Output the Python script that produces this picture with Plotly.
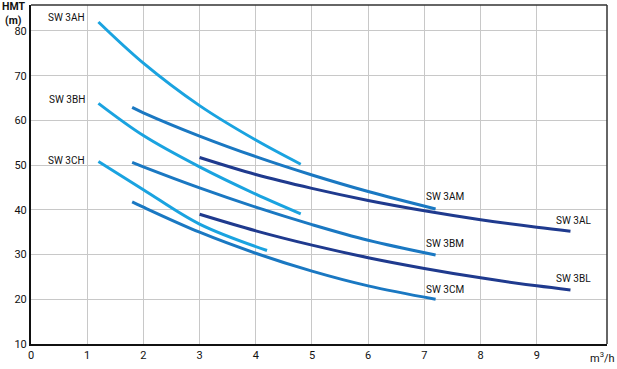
import plotly.graph_objects as go

# Data
names = ["SW 3AH", "SW 3BH", "SW 3CH", "SW 3AM", "SW 3BM", "SW 3CM", "SW 3AL", "SW 3BL"]
x_3AH = [1.2, 2, 3, 4, 4.8]
y_3AH = [82.0, 72.8, 63.3, 55.6, 50.2]
x_3BH = [1.2, 2, 3, 4, 4.8]
y_3BH = [63.8, 56.6, 49.6, 43.5, 39.1]
x_3CH = [1.2, 2, 3, 4.2]
y_3CH = [50.8, 44.5, 36.8, 30.9]
x_3AM = [1.8, 2, 3, 4, 5, 6, 7.2]
y_3AM = [62.9, 61.7, 56.5, 51.9, 47.8, 44.1, 40.2]
x_3BM = [1.8, 2, 3, 4, 5, 6, 7.2]
y_3BM = [50.6, 49.6, 44.9, 40.6, 36.7, 33.2, 29.9]
x_3CM = [1.8, 2, 3, 4, 5, 6, 7.2]
y_3CM = [41.8, 40.6, 35.0, 30.3, 26.3, 23.0, 20.0]
x_3AL = [3, 4, 5, 6, 7, 8, 9, 9.6]
y_3AL = [51.7, 47.9, 44.8, 42.1, 39.8, 37.8, 36.1, 35.2]
x_3BL = [3, 4, 5, 6, 7, 8, 9, 9.6]
y_3BL = [39.0, 35.3, 32.1, 29.3, 26.9, 24.8, 23.0, 22.1]

label_x = [1.0, 1.0, 1.0, 7.0, 7.0, 7.0, 9.31, 9.31]
label_y = [82.9, 64.6, 51.1, 42.9, 32.4, 22.1, 37.7, 24.7]
label_anchor = ["right", "right", "right", "left", "left", "left", "left", "left"]

x_ticks = [0, 1, 2, 3, 4, 5, 6, 7, 8, 9]
y_ticks = [10, 20, 30, 40, 50, 60, 70, 80]

LIGHT = "#1aa3e0"
MED = "#1a78c2"
DARK = "#1f3a8e"

series = [
    (x_3AH, y_3AH, LIGHT), (x_3BH, y_3BH, LIGHT), (x_3CH, y_3CH, LIGHT),
    (x_3AM, y_3AM, MED), (x_3BM, y_3BM, MED), (x_3CM, y_3CM, MED),
    (x_3AL, y_3AL, DARK), (x_3BL, y_3BL, DARK),
]

FONT = "Roboto"

fig = go.Figure()
for (xs, ys, col), nm in zip(series, names):
    fig.add_trace(go.Scatter(x=xs, y=ys, mode="lines", name=nm,
                             line=dict(color=col, width=3, shape="spline", smoothing=1.0),
                             showlegend=False, hoverinfo="skip"))

for nm, lx, ly, anc in zip(names, label_x, label_y, label_anchor):
    fig.add_annotation(x=lx, y=ly, text=nm, showarrow=False, xanchor=anc, yanchor="middle",
                       font=dict(family=FONT, size=10, color="#111"))

fig.add_annotation(xref="paper", yref="paper", x=-0.03, y=0.9965, text="<b>HMT</b>", showarrow=False,
                   xanchor="center", yanchor="middle", font=dict(family=FONT, size=10.5, color="#111"))
fig.add_annotation(xref="paper", yref="paper", x=-0.03, y=0.955, text="<b>(m)</b>", showarrow=False,
                   xanchor="center", yanchor="middle", font=dict(family=FONT, size=10.5, color="#111"))
fig.add_annotation(xref="paper", yref="paper", x=0.993, y=-0.04, text="m<sup>3</sup>/h", showarrow=False,
                   xanchor="center", yanchor="middle", font=dict(family=FONT, size=11, color="#111"))

fig.update_xaxes(range=[0, 10.25], tickvals=x_ticks, showgrid=True, gridcolor="#c8c8c8", gridwidth=1,
                 showline=True, linecolor="#111", linewidth=2, mirror=False, ticks="", zeroline=False,
                 automargin=False, tickfont=dict(family=FONT, size=11, color="#111"))
fig.update_yaxes(range=[10, 85.8], tickvals=y_ticks, showgrid=True, gridcolor="#c8c8c8", gridwidth=1,
                 showline=True, linecolor="#111", linewidth=2, mirror=False, ticks="", zeroline=False,
                 automargin=False, tickfont=dict(family=FONT, size=11, color="#111"))

fig.add_shape(type="line", xref="paper", yref="paper", x0=0, x1=1, y0=1, y1=1,
              line=dict(color="#333", width=1.5))
fig.add_shape(type="line", xref="paper", yref="paper", x0=1, x1=1, y0=0, y1=1,
              line=dict(color="#333", width=1.5))

fig.update_layout(width=617, height=369, margin=dict(l=31, r=10, t=5, b=25),
                  plot_bgcolor="white", paper_bgcolor="white")

fig.write_html("out.html", config={"displayModeBar": False},
               post_script="document.body.style.margin='0px';")
